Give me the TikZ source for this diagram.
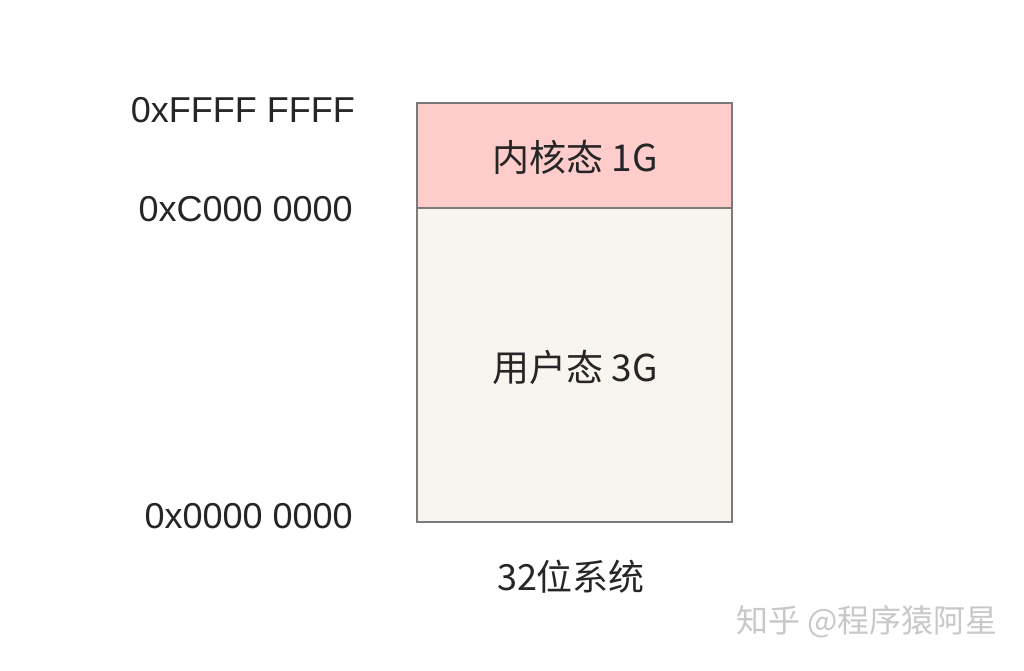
\documentclass[tikz,border=0pt]{standalone}
\usepackage{fontspec}
\setmainfont{Liberation Sans}
\newfontfamily\cjk{Noto Sans CJK SC}
\definecolor{kpink}{HTML}{FFCCCC}
\definecolor{ubeige}{HTML}{F8F5EE}
\definecolor{bord}{HTML}{7A7A7A}
\definecolor{txt}{HTML}{262626}
\definecolor{wm}{HTML}{C8C8C8}
\begin{document}
\begin{tikzpicture}[x=1pt,y=-1pt,
  addr/.style={anchor=east,text=txt,font=\fontsize{36}{40}\selectfont,inner sep=0pt},
  seg/.style={draw=bord,line width=2pt},
  lbl/.style={text=txt,font=\fontsize{37}{40}\selectfont\cjk,inner sep=0pt}]
\useasboundingbox (0,0) rectangle (1024,670);
\fill[white] (0,0) rectangle (1024,670);
\node[seg,fill=ubeige,minimum width=315pt,minimum height=314pt,anchor=north west,inner sep=0pt] (user) at (416,207) {};
\node[seg,fill=kpink,minimum width=315pt,minimum height=105pt,anchor=north west,inner sep=0pt] (kern) at (416,102) {};
\node[lbl] (kt) at (575,157) {内核态 1G};
\node[lbl] (ut) at (575,367) {用户态 3G};
\node[lbl,font=\fontsize{36}{40}\selectfont\cjk] (sys) at (571,577) {32位系统};
\node[addr] (a1) at (355,110) {0xFFFF FFFF};
\node[addr] (a2) at (353,209) {0xC000 0000};
\node[addr] (a3) at (353,516) {0x0000 0000};
\node[text=wm,font=\fontsize{32}{35}\selectfont\cjk,inner sep=0pt] (wmk) at (867,622) {知乎 @程序猿阿星};
\end{tikzpicture}
\end{document}
